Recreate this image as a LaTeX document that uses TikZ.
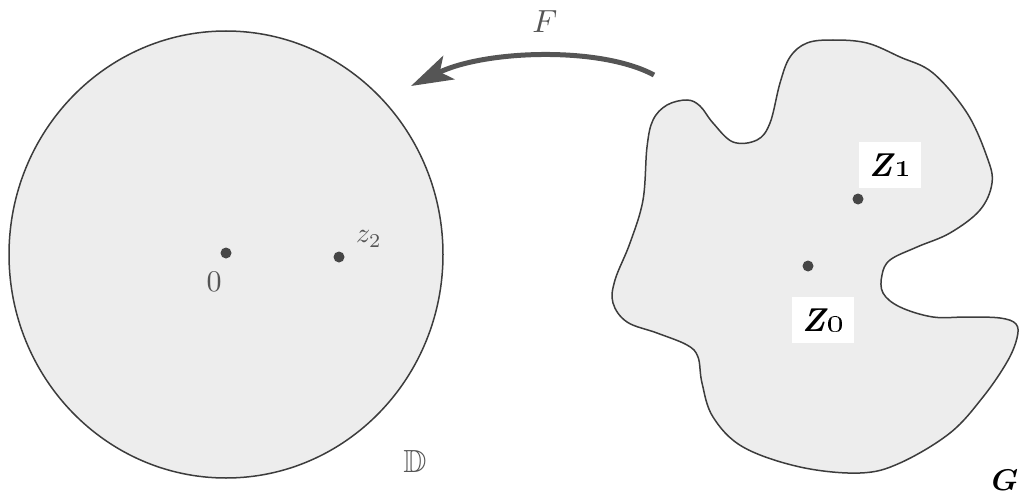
\documentclass[tikz,border=0pt]{standalone}
\usepackage{amssymb}
\usepackage{amsmath}
\usepackage{bm}
\usetikzlibrary{arrows.meta}
\definecolor{regionfill}{RGB}{237,237,237}
\definecolor{edge}{RGB}{60,60,60}
\definecolor{dotc}{RGB}{70,70,70}
\definecolor{txtgray}{RGB}{85,85,85}
\begin{document}
\begin{tikzpicture}[x=1pt,y=-1pt,
  region/.style={draw=edge, line width=1.5pt, fill=regionfill},
  pt/.style={circle, fill=dotc, inner sep=0pt, minimum size=11pt},
  maplabel/.style={inner sep=0pt, text=txtgray},
  zbox/.style={fill=white, inner sep=0pt, minimum width=62pt, minimum height=46pt},
  maparrow/.style={draw=txtgray, line width=5pt, -{Stealth[length=42pt,width=26pt,inset=10pt]}}
]
\useasboundingbox (0,0) rectangle (1020,495);

% disc
\draw[region] (226,254.5) ellipse [x radius=217, y radius=223.5];
\node[pt] (p0) at (226,253) {};
\node[pt] (pz2) at (339,257) {};
\node[maplabel, scale=3] (l0) at (214,282) {$0$};
\node[maplabel, scale=2.8] (lz2) at (369,239) {$z_2$};
\node[maplabel, scale=3.2] (lD) at (415,461) {$\mathbb{D}$};

% region G
\draw[region] plot[smooth cycle, tension=0.6] coordinates {
 (807,43) (833,40) (867,43) (900,57) (933,73) (967,113) (987,157) (992,183)
 (980,210) (950,233) (917,247) (890,260) (882,275) (883,293) (900,307)
 (933,317) (967,317) (1000,318) (1016,324) (1017,338) (1007,362) (983,397)
 (950,433) (900,463) (860,473) (800,467) (743,447) (713,417) (702,383)
 (698,357) (687,345) (657,333) (627,322) (613,303) (615,280) (630,243)
 (643,200) (647,147) (653,120) (667,105) (687,100) (700,106) (713,123)
 (733,142) (757,140) (770,123) (780,83) (790,57)};
\node[pt] (pz1) at (858,199) {};
\node[pt] (pz0) at (808,266) {};
\node[zbox] (lz1) at (890,165) {\scalebox{3.3}{\textbf{\textit{Z}}\textit{\oldstylenums{1}}}};
\node[zbox] (lz0) at (823,320) {\scalebox{3.3}{\textbf{\textit{Z}}\textit{\oldstylenums{0}}}};
\node[inner sep=0pt, scale=3] (lG) at (1005,480) {$\bm{G}$};

% map F
\coordinate (arrS) at (654,75);
\coordinate (arrE) at (411,86);
\draw[maparrow] (arrS) .. controls (600,46) and (485,50) .. (arrE);
\node[maplabel, scale=3.2] (lF) at (545,22) {$F$};
\end{tikzpicture}
\end{document}
